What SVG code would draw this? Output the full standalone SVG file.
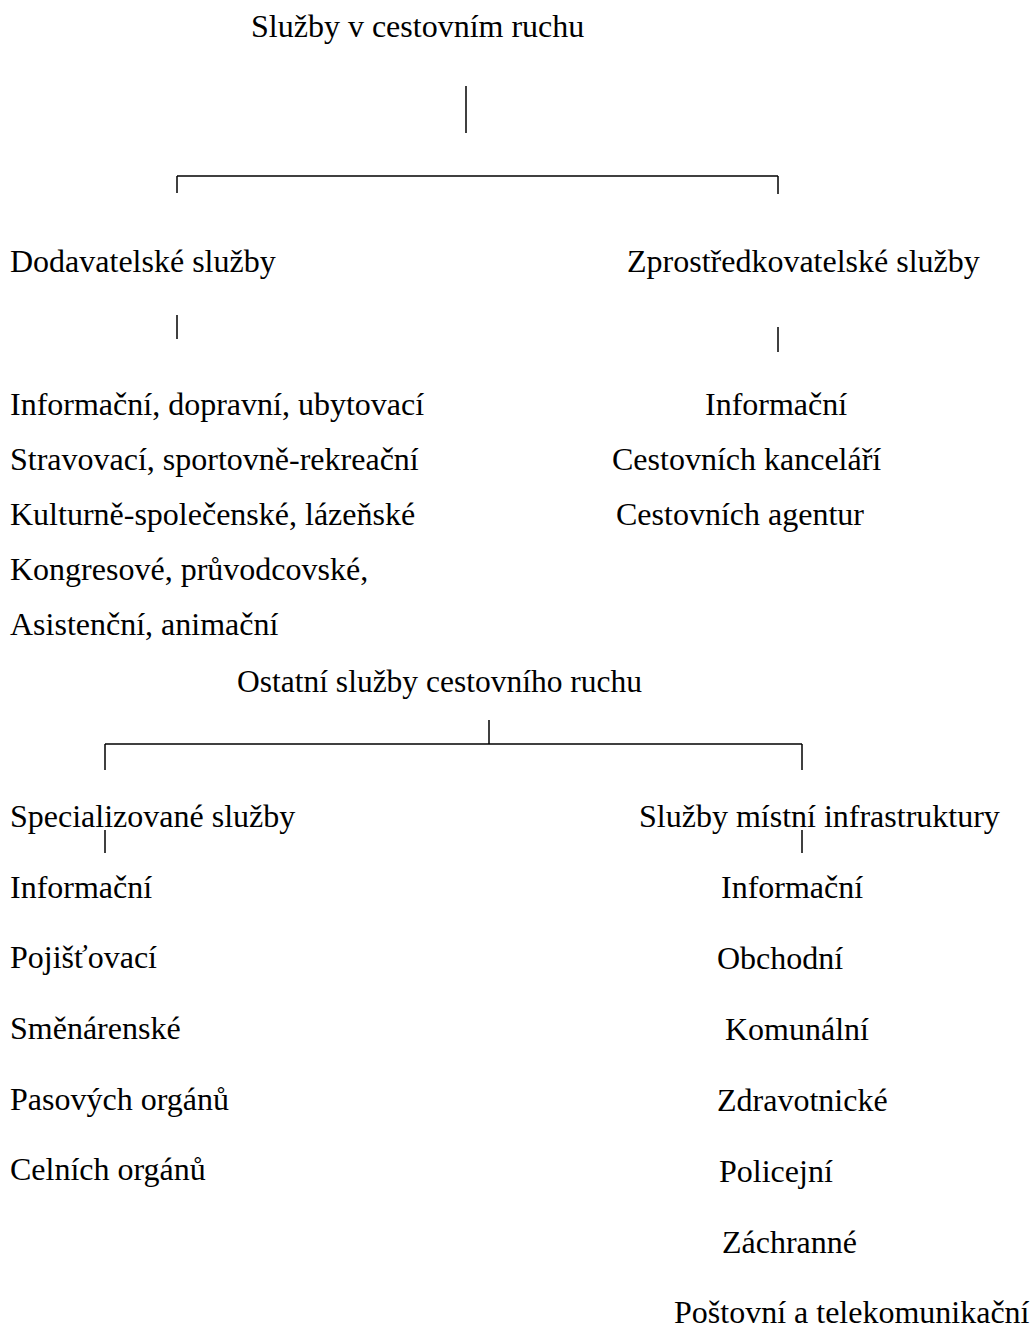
<svg xmlns="http://www.w3.org/2000/svg" width="1032" height="1330" viewBox="0 0 1032 1330">
  <style>
    text { font-family: "Liberation Serif", "Times New Roman", serif; font-size: 32px; fill: #000; }
    .hdr2 { font-size: 31.5px; }
    .conn line { stroke: #000; stroke-width: 1.5; fill: none; }
  </style>
  <rect width="1032" height="1330" fill="#fff"/>

  <!-- tree connectors -->
  <g id="connectors" class="conn">
    <!-- top level -->
    <line x1="466" y1="86" x2="466" y2="133"/>
    <line x1="177" y1="176" x2="778" y2="176"/>
    <line x1="177" y1="176" x2="177" y2="193"/>
    <line x1="778" y1="176" x2="778" y2="194"/>
    <line x1="177" y1="315" x2="177" y2="339"/>
    <line x1="778" y1="327" x2="778" y2="352"/>
    <!-- lower block -->
    <line x1="489" y1="720" x2="489" y2="744"/>
    <line x1="105" y1="744" x2="802" y2="744"/>
    <line x1="105" y1="744" x2="105" y2="770"/>
    <line x1="802" y1="744" x2="802" y2="770"/>
    <line x1="105" y1="830" x2="105" y2="853"/>
    <line x1="802" y1="830" x2="802" y2="853"/>
  </g>

  <g id="root">
    <text x="251" y="37">Služby v cestovním ruchu</text>
  </g>

  <g id="dodavatelske">
    <text x="10" y="272">Dodavatelské služby</text>
  </g>
  <g id="dodavatelske-list">
    <text x="10" y="415">Informační, dopravní, ubytovací</text>
    <text x="10" y="470">Stravovací, sportovně-rekreační</text>
    <text x="10" y="525">Kulturně-společenské, lázeňské</text>
    <text x="10" y="580">Kongresové, průvodcovské,</text>
    <text x="10" y="635">Asistenční, animační</text>
  </g>

  <g id="zprostredkovatelske">
    <text x="627" y="272">Zprostředkovatelské služby</text>
  </g>
  <g id="zprostredkovatelske-list">
    <text x="705" y="415">Informační</text>
    <text x="612" y="470">Cestovních kanceláří</text>
    <text x="616" y="525">Cestovních agentur</text>
  </g>

  <g id="ostatni">
    <text class="hdr2" x="237" y="692">Ostatní služby cestovního ruchu</text>
  </g>

  <g id="specializovane">
    <text x="10" y="827">Specializované služby</text>
  </g>
  <g id="specializovane-list">
    <text x="10" y="898">Informační</text>
    <text x="10" y="968">Pojišťovací</text>
    <text x="10" y="1039">Směnárenské</text>
    <text x="10" y="1110">Pasových orgánů</text>
    <text x="10" y="1180">Celních orgánů</text>
  </g>

  <g id="infrastruktura">
    <text x="639" y="827">Služby místní infrastruktury</text>
  </g>
  <g id="infrastruktura-list">
    <text x="721" y="898">Informační</text>
    <text x="717" y="969">Obchodní</text>
    <text x="725" y="1040">Komunální</text>
    <text x="717" y="1111">Zdravotnické</text>
    <text x="719" y="1182">Policejní</text>
    <text x="722" y="1253">Záchranné</text>
    <text x="674" y="1323">Poštovní a telekomunikační</text>
  </g>
</svg>
